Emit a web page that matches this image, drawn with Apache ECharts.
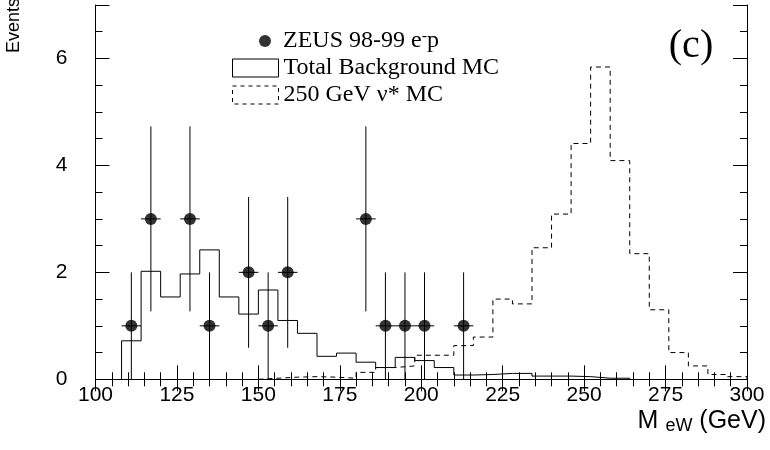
<!DOCTYPE html>
<html>
<head>
<meta charset="utf-8">
<script src="https://cdn.jsdelivr.net/npm/echarts@6/dist/echarts.min.js"></script>
<style>html,body{margin:0;padding:0;background:#fff;}#c{width:770px;height:450px;}</style>
</head>
<body>
<div id="c"></div>
<script>
// ---- data ----
const binWidth = 6;
const bgStart = 108;
const bgValues = [0.72, 2.02, 1.54, 1.97, 2.42, 1.54, 1.22, 1.67, 1.10, 0.86, 0.43, 0.49, 0.32, 0.22, 0.41, 0.35, 0.22, 0.08, 0.09, 0.11, 0.11, 0.06, 0.06, 0.05, 0.02, 0.02];
const sigStart = 150;
const sigValues = [0.02, 0.04, 0.05, 0.04, 0.02, 0.13, 0.22, 0.25, 0.45, 0.45, 0.63, 0.79, 1.50, 1.41, 2.46, 3.09, 4.41, 5.84, 4.09, 2.35, 1.30, 0.50, 0.25, 0.09, 0.05];
const dataX = [111, 117, 129, 135, 147, 153, 159, 183, 189, 195, 201, 213];
const dataY = [1, 3, 3, 1, 2, 1, 2, 3, 1, 1, 1, 1];
const dataErr = [1, 1.73, 1.73, 1, 1.41, 1, 1.41, 1.73, 1, 1, 1, 1];
const xTicks = [100, 125, 150, 175, 200, 225, 250, 275, 300];
const yTicks = [0, 2, 4, 6];
const names = ['ZEUS 98-99 e-p', 'Total Background MC', '250 GeV \u03bd* MC'];

function histPoints(start, vals) {
  const pts = [[start, 0]];
  vals.forEach((v, i) => pts.push([start + i * binWidth, v]));
  const end = start + vals.length * binWidth;
  pts.push([end, vals[vals.length - 1]]);
  pts.push([end, 0]);
  return pts;
}

const chart = echarts.init(document.getElementById('c'), null, {renderer: 'canvas'});
const sans = 'Liberation Sans';
const serif = 'Liberation Serif';

function xAxisBase(pos, labels, majorLen) {
  return {
    type: 'value', position: pos, min: xTicks[0], max: xTicks[xTicks.length - 1], interval: 25,
    axisLine: {show: true, lineStyle: {color: '#000', width: 1}},
    axisTick: {show: true, inside: true, length: majorLen, lineStyle: {color: '#000', width: 1}},
    minorTick: {show: true, splitNumber: 5, length: 7, lineStyle: {color: '#000', width: 1}},
    splitLine: {show: false},
    axisLabel: {show: labels, color: '#000', fontFamily: sans, fontSize: 21, margin: 5},
  };
}
function yAxisBase(pos, interval, len, labels, line) {
  return {
    type: 'value', position: pos, min: 0, max: 7, interval: interval,
    axisLine: {show: line, onZero: false, lineStyle: {color: '#000', width: 1}},
    axisTick: {show: true, inside: true, length: len, lineStyle: {color: '#000', width: 1}},
    splitLine: {show: false},
    axisLabel: {show: labels, color: '#000', fontFamily: sans, fontSize: 21, margin: 28,
      formatter: v => (yTicks.indexOf(v) >= 0 ? String(v) : '')},
  };
}

const option = {
  backgroundColor: '#fff',
  animation: false,
  grid: {left: 95.5, right: 23, top: 5, bottom: 70.7, containLabel: false},
  xAxis: [xAxisBase('bottom', true, 14), xAxisBase('top', false, 12)],
  yAxis: [
    yAxisBase('left', 2, 14, true, true),
    yAxisBase('left', 0.5, 7, false, false),
    yAxisBase('right', 2, 14, false, true),
    yAxisBase('right', 0.5, 7, false, false)
  ],
  legend: [
    {data: [{name: names[0], icon: 'circle', itemStyle: {color: '#000'}}],
     left: 259, top: 29, padding: 0, itemWidth: 12, itemHeight: 12, selectedMode: false,
     formatter: () => 'ZEUS 98-99 e{sup|-}p',
     textStyle: {color: '#000', fontFamily: serif, fontSize: 24, padding: [0, 0, 0, 7],
       rich: {sup: {fontFamily: serif, fontSize: 16, verticalAlign: 'top', color: '#000'}}}},
    {data: [{name: names[1], icon: 'rect', itemStyle: {color: 'rgba(0,0,0,0)', borderColor: '#000', borderWidth: 1}}],
     left: 232, top: 56, padding: 0, itemWidth: 46, itemHeight: 18, selectedMode: false,
     textStyle: {color: '#000', fontFamily: serif, fontSize: 24}},
    {data: [{name: names[2], icon: 'rect', itemStyle: {color: 'rgba(0,0,0,0)', borderColor: '#000', borderWidth: 1, borderType: [4, 4]}}],
     left: 232, top: 83, padding: 0, itemWidth: 46, itemHeight: 18, selectedMode: false,
     textStyle: {color: '#000', fontFamily: serif, fontSize: 24}}
  ],
  graphic: [
    {type: 'text', x: 14, y: 53, rotation: Math.PI / 2,
     style: {text: 'Events', fill: '#000', fontSize: 18, fontFamily: sans, textAlign: 'left', textVerticalAlign: 'middle'}},
    {type: 'text', x: 766, y: 421,
     style: {text: 'M {s|eW} (GeV)', fill: '#000', fontSize: 25, fontFamily: sans, textAlign: 'right', textVerticalAlign: 'middle',
       rich: {s: {fontSize: 18, fontFamily: sans, verticalAlign: 'bottom', padding: [10, 0, 0, 0], fill: '#000'}}}},
    {type: 'text', x: 691, y: 46,
     style: {text: '(c)', fill: '#000', fontSize: 40, fontFamily: serif, textAlign: 'center', textVerticalAlign: 'middle'}}
  ],
  series: [
    {name: names[1], type: 'line', step: 'end', data: histPoints(bgStart, bgValues),
     showSymbol: false, symbol: 'none', lineStyle: {color: '#000', width: 1}, itemStyle: {color: '#000'}, z: 2},
    {name: names[2], type: 'line', step: 'end', data: histPoints(sigStart, sigValues),
     showSymbol: false, symbol: 'none', lineStyle: {color: '#000', width: 1, type: [5, 4]}, itemStyle: {color: '#000'}, z: 2},
    {name: 'errors', type: 'custom', data: dataX.map((x, i) => [x, dataY[i], dataErr[i]]),
     encode: {x: 0, y: 1}, z: 3,
     renderItem: function (params, api) {
       const x = api.value(0), y = api.value(1), e = api.value(2);
       const t = api.coord([x, y + e]), b = api.coord([x, Math.max(0, y - e)]);
       const l = api.coord([x - binWidth / 2, y]), r = api.coord([x + binWidth / 2, y]);
       return {type: 'group', children: [
         {type: 'line', shape: {x1: t[0], y1: t[1], x2: b[0], y2: b[1]}, style: {stroke: '#000', lineWidth: 1}},
         {type: 'line', shape: {x1: l[0], y1: l[1], x2: r[0], y2: r[1]}, style: {stroke: '#000', lineWidth: 1}}
       ]};
     }},
    {name: names[0], type: 'scatter', data: dataX.map((x, i) => [x, dataY[i]]),
     symbol: 'circle', symbolSize: 12, itemStyle: {color: '#000'}, z: 4}
  ]
};
chart.setOption(option);
</script>
</body>
</html>
